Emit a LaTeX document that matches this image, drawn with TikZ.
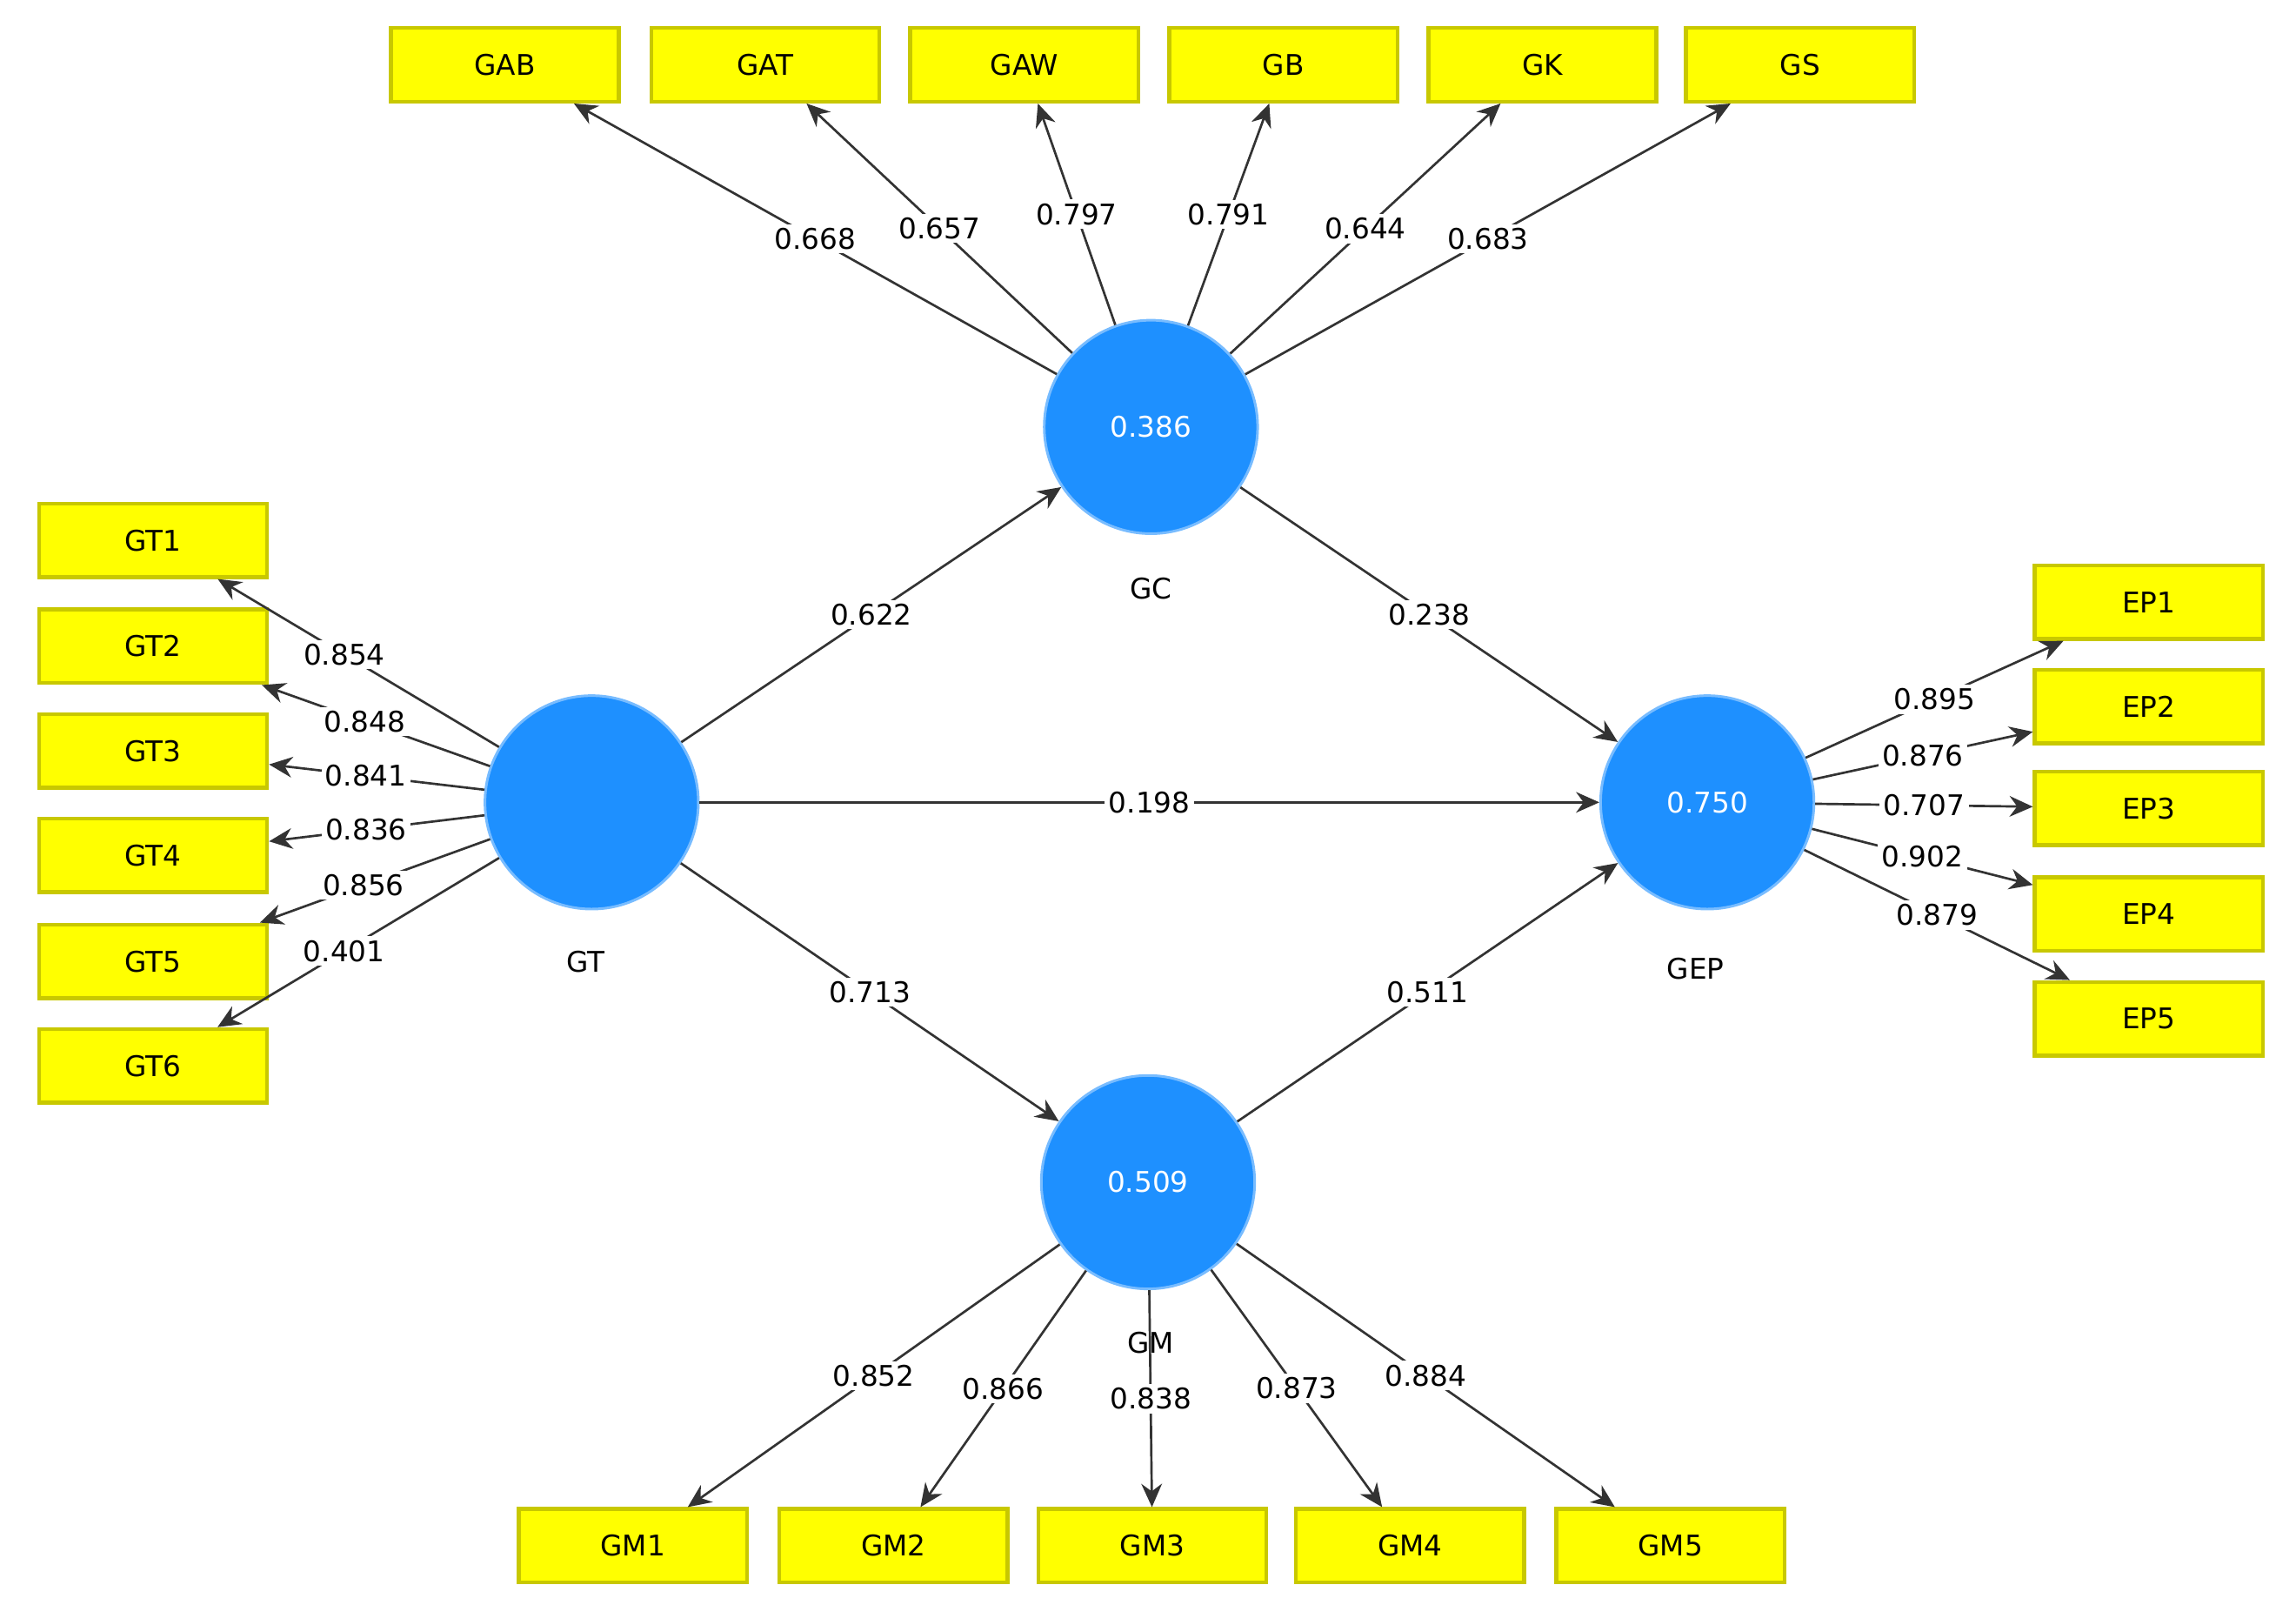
\documentclass[tikz,border=0pt]{standalone}
\usepackage{fontspec}
\setmainfont{DejaVu Sans}
\usetikzlibrary{arrows.meta}
\definecolor{yb}{HTML}{FFFF00}
\definecolor{ybd}{HTML}{C8C800}
\definecolor{cb}{HTML}{1E90FF}
\begin{document}
\begin{tikzpicture}[x=0.02cm,y=-0.02cm,
 box/.style={draw=ybd,line width=1.5pt,fill=yb,minimum width=3.1cm,minimum height=1cm,font=\fontsize{11}{13}\selectfont},
 lv/.style={circle,fill=cb,draw=cb!60,line width=1pt,minimum size=2.9cm,text=white,font=\fontsize{11}{13}\selectfont},
 lab/.style={font=\fontsize{11}{13}\selectfont},
 ar/.style={draw=black!80,line width=0.9pt,-{Stealth[length=9pt,width=8pt]}},
 wl/.style={fill=white,inner sep=1.5pt,font=\fontsize{11}{13}\selectfont,pos=0.5}]
\useasboundingbox (0,0) rectangle (1560,1090);
% latent
\node[lv] (GC) at (782,290) {0.386};
\node[lv] (GT) at (402,545) {};
\node[lv] (GEP) at (1160,545) {0.750};
\node[lv] (GM) at (780,803) {0.509};
\node[lab] (lGC) at (782,400) {GC};
\node[lab] (lGT) at (398,653) {GT};
\node[lab] (lGEP) at (1152,658) {GEP};
\node[lab] (lGM) at (782,912) {GM};
% top boxes
\foreach \n/\x in {GAB/343,GAT/520,GAW/696,GB/872,GK/1048,GS/1223}
  \node[box] (\n) at (\x,44) {\n};
\foreach \n/\y in {GT1/367,GT2/439,GT3/510,GT4/581,GT5/653,GT6/724}
  \node[box] (\n) at (104,\y) {\n};
\foreach \n/\y in {EP1/409,EP2/480,EP3/549,EP4/621,EP5/692}
  \node[box] (\n) at (1460,\y) {\n};
\foreach \n/\x in {GM1/430,GM2/607,GM3/783,GM4/958,GM5/1135}
  \node[box] (\n) at (\x,1050) {\n};
% outer loadings
\foreach \n/\v in {GAB/0.668,GAT/0.657,GAW/0.797,GB/0.791,GK/0.644,GS/0.683}
  \draw[ar] (GC) -- (\n) node[wl] {\v};
\foreach \n/\v in {GT1/0.854,GT2/0.848,GT3/0.841,GT4/0.836,GT5/0.856,GT6/0.401}
  \draw[ar] (GT) -- (\n) node[wl,pos=0.55] {\v};
\foreach \n/\v in {EP1/0.895,EP2/0.876,EP3/0.707,EP4/0.902,EP5/0.879}
  \draw[ar] (GEP) -- (\n) node[wl] {\v};
\foreach \n/\v in {GM1/0.852,GM2/0.866,GM3/0.838,GM4/0.873,GM5/0.884}
  \draw[ar] (GM) -- (\n) node[wl] {\v};
% structural
\draw[ar] (GT) -- (GC) node[wl] {0.622};
\draw[ar] (GC) -- (GEP) node[wl] {0.238};
\draw[ar] (GT) -- (GEP) node[wl] {0.198};
\draw[ar] (GT) -- (GM) node[wl] {0.713};
\draw[ar] (GM) -- (GEP) node[wl] {0.511};
\end{tikzpicture}
\end{document}
